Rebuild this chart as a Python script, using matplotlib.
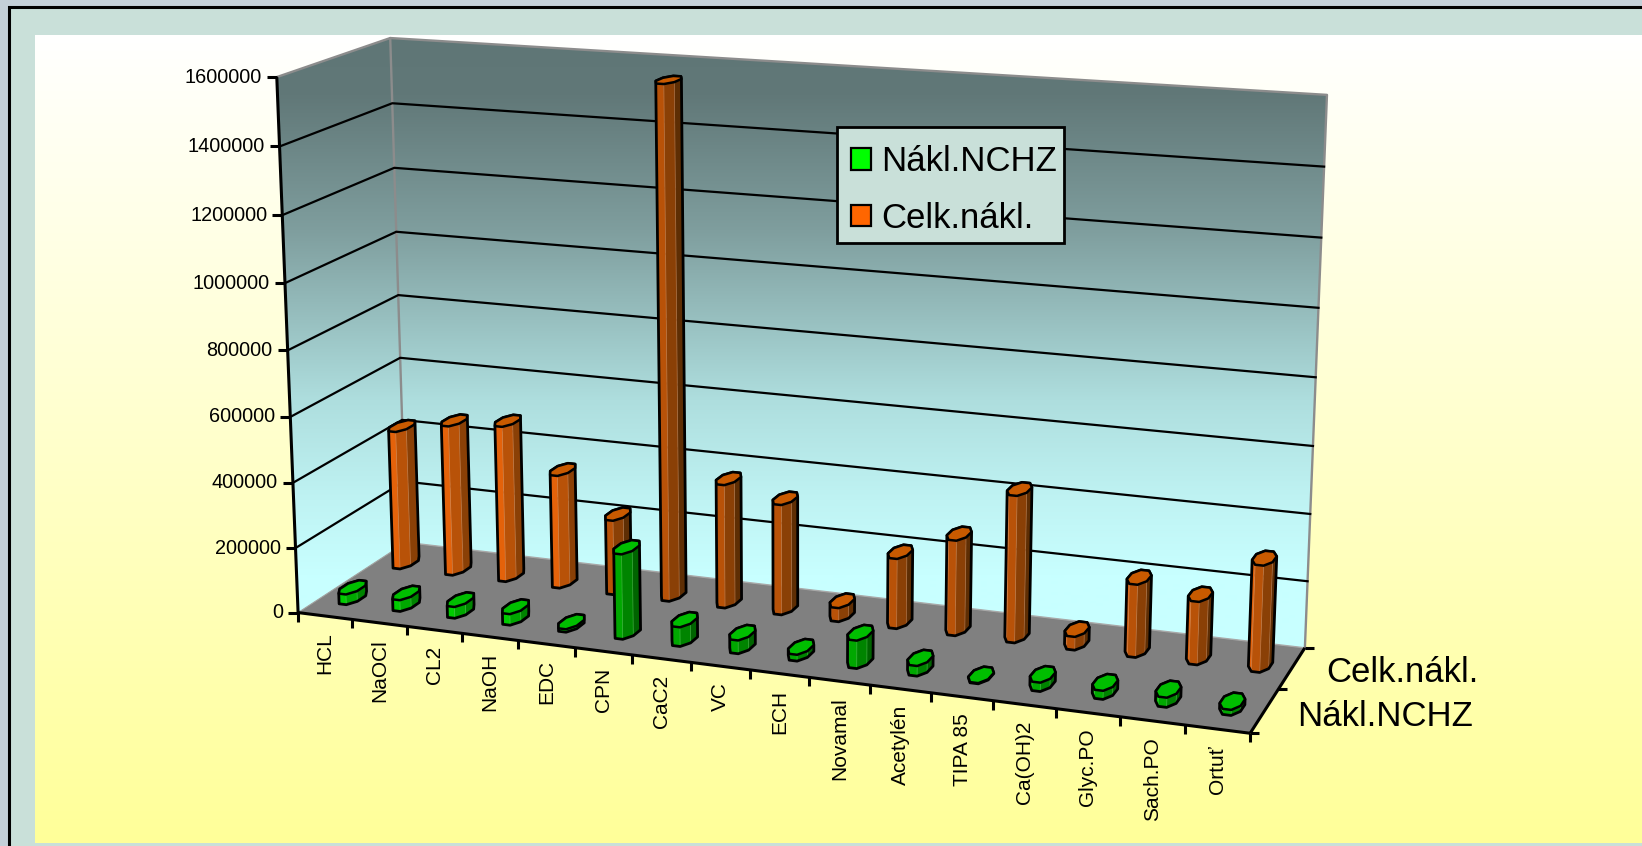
#! /usr/bin/env python

import numpy as np
import matplotlib
matplotlib.use('Agg')
import matplotlib.pyplot as plt
from matplotlib.patches import Polygon, Rectangle, Patch

plt.rcParams['font.family'] = ['Liberation Sans', 'DejaVu Sans']

categories = ['HCL', 'NaOCl', 'CL2', 'NaOH', 'EDC', 'CPN', 'CaC2', 'VC', 'ECH', 'Novamal',
              'Acetylén', 'TIPA 85', 'Ca(OH)2', 'Glyc.PO', 'Sach.PO', 'Ortuť']
series_names = ['Nákl.NCHZ', 'Celk.nákl.']
nakl_nchz = [32000, 35000, 35000, 34000, 9000, 257000, 58000, 40000,
             19000, 83000, 30000, 2000, 26000, 25000, 28000, 16000]
celk_nakl = [437000, 472000, 488000, 353000, 232000, 1560000, 380000, 338000,
             42000, 213000, 288000, 441000, 40000, 217000, 187000, 314000]
value_ticks = [0, 200000, 400000, 600000, 800000, 1000000, 1200000, 1400000, 1600000]
value_max = 1600000

W, H = 1642, 846
FS = 14.3
FS_CAT = 15
FS_BIG = 25

# corners of the chart box: (category, series, value) -> pixel, used to solve the camera
box_corners = [((0, 0, 0), (298, 612)), ((0, 0, 1), (277, 77)),
               ((0, 2, 0), (406, 543)), ((0, 2, 1), (390, 38)),
               ((16, 0, 0), (1250, 734)), ((16, 2, 0), (1305, 647)),
               ((16, 2, 1), (1327, 95))]

# wall shading by pixel row
wall_rows = [38, 95, 230, 320, 400, 500, 575, 760]
wall_colors = ['#5F7676', '#617878', '#7F9E9E', '#98C0C0', '#AEDEDE', '#BFF3F3', '#C8FFFF', '#C8FFFF']


def solve_camera(corners):
    rows = []
    for (u, s, z), (x, y) in corners:
        X = [u / 16, s / 2, z, 1]
        rows.append(X + [0, 0, 0, 0] + [-x * c for c in X])
        rows.append([0, 0, 0, 0] + X + [-y * c for c in X])
    _, _, vt = np.linalg.svd(np.array(rows, dtype=float))
    return vt[-1].reshape(3, 4)


camera = solve_camera(box_corners)


def project(cat, ser, val):
    cat, ser, val = np.broadcast_arrays(np.asarray(cat, float), np.asarray(ser, float), np.asarray(val, float))
    X = np.stack([cat / 16, ser / 2, val / value_max, np.ones_like(cat)])
    p = camera @ X
    return p[0] / p[2], p[1] / p[2]


def pts(cat, ser, val):
    x, y = project(cat, ser, val)
    return np.column_stack([np.atleast_1d(x), np.atleast_1d(y)])


def gradient(ax, rows, colors, clip):
    rgb = np.array([matplotlib.colors.to_rgb(c) for c in colors])
    yy = np.arange(rows[0], rows[-1] + 1)
    img = np.stack([np.interp(yy, rows, rgb[:, k]) for k in range(3)], axis=1)[:, None, :]
    im = ax.imshow(img, extent=(0, W, rows[-1], rows[0]), aspect='auto', zorder=1, interpolation='bilinear')
    patch = Polygon(clip, closed=True, transform=ax.transData, facecolor='none', edgecolor='none')
    ax.add_patch(patch)
    im.set_clip_path(patch)


def cylinder(ax, cat, ser, val, facets, cap, highlight):
    ang = np.arange(8) * 2 * np.pi / 8 + np.pi / 8
    cu = cat + 0.5 + 0.175 * np.cos(ang)
    cs = ser + 0.5 + 0.2 * np.sin(ang)
    low = pts(cu, cs, 0)
    top = pts(cu, cs, val)
    il, ir = np.argmin(low[:, 0]), np.argmax(low[:, 0])

    # the two arcs from the left to the right silhouette point
    up = [(il + k) % 8 for k in range(((ir - il) % 8) + 1)]
    down = [(il - k) % 8 for k in range(((il - ir) % 8) + 1)]
    front, back = (up, down) if low[up, 1].mean() > low[down, 1].mean() else (down, up)

    n = len(front) - 1
    for k in range(n):
        a, b = front[k], front[k + 1]
        shade = facets[min(int(k * len(facets) / n), len(facets) - 1)]
        ax.add_patch(Polygon([low[a], low[b], top[b], top[a]], closed=True, facecolor=shade,
                             edgecolor=shade, linewidth=0.3, zorder=5))
        if 0 < k:
            ax.plot([low[a, 0], top[a, 0]], [low[a, 1], top[a, 1]], color=highlight, lw=0.5, alpha=0.6, zorder=5)

    outline = np.vstack([low[front], top[back[::-1]]])
    ax.add_patch(Polygon(outline, closed=True, facecolor='none', edgecolor='black', linewidth=2.0,
                         joinstyle='round', zorder=5))
    ax.add_patch(Polygon(top, closed=True, facecolor=cap, edgecolor='black', linewidth=1.8,
                         joinstyle='round', zorder=5))


fig = plt.figure(figsize=(W / 100, H / 100), dpi=100, facecolor='#C4D0D8')
ax = fig.add_axes([0, 0, 1, 1])
ax.set_xlim(0, W)
ax.set_ylim(H, 0)
ax.axis('off')

# slide frame and panel
ax.add_patch(Rectangle((8.5, 7.5), W, H, facecolor='#C9E0D9', edgecolor='black', linewidth=2.2, zorder=0))
gradient(ax, [35, 843], ['#FFFFFF', '#FFFF99'], [(35, 35), (W, 35), (W, 843), (35, 843)])

# walls and floor
fl, fr, bl, br = pts(0, 0, 0)[0], pts(16, 0, 0)[0], pts(0, 2, 0)[0], pts(16, 2, 0)[0]
fl_t, bl_t, br_t = pts(0, 0, value_max)[0], pts(0, 2, value_max)[0], pts(16, 2, value_max)[0]
gradient(ax, wall_rows, wall_colors, [fl, fl_t, bl_t, br_t, br, bl])
ax.add_patch(Polygon([fl, bl, br, fr], closed=True, facecolor='#808080', edgecolor='none', zorder=2))

edge = dict(color='#8C8C8C', lw=1.7, zorder=3, solid_capstyle='round')
ax.plot([fl_t[0], bl_t[0], br_t[0], br[0]], [fl_t[1], bl_t[1], br_t[1], br[1]], **edge)
ax.plot([bl_t[0], bl[0]], [bl_t[1], bl[1]], **edge)
ax.plot([bl[0], br[0]], [bl[1], br[1]], color='#A8A8A8', lw=1.0, zorder=3)
ax.plot([fl[0], bl[0]], [fl[1], bl[1]], color='#A0A0A0', lw=0.8, zorder=3)

# gridlines over both walls
for v in value_ticks[1:-1]:
    g = np.vstack([pts(0, 0, v), pts(0, 2, v), pts(16, 2, v)])
    ax.plot(g[:, 0], g[:, 1], color='black', lw=1.6, zorder=3)

# value axis
axis = dict(color='black', lw=2.2, zorder=4, solid_capstyle='butt')
ax.plot([fl[0], fl_t[0]], [fl[1], fl_t[1]], **axis)
for v in value_ticks:
    tx, ty = pts(0, 0, v)[0]
    ax.plot([tx - 10, tx], [ty, ty], **axis)
    ax.text(tx - 15, ty, str(v), ha='right', va='center', fontsize=FS, color='black')

# category axis
ax.plot([fl[0], fr[0]], [fl[1], fr[1]], **axis)
for i in range(len(categories) + 1):
    tx, ty = pts(i, 0, 0)[0]
    ax.plot([tx, tx], [ty, ty + 9], **axis)
for i, name in enumerate(categories):
    tx, ty = pts(i + 0.5, 0, 0)[0]
    ax.text(tx, ty + 16, name, rotation=90, ha='center', va='top', fontsize=FS_CAT, color='black')

# series axis
ax.plot([fr[0], br[0]], [fr[1], br[1]], **axis)
for k in range(3):
    tx, ty = pts(16, k, 0)[0]
    ax.plot([tx, tx + 9], [ty, ty], **axis)
ax.text(1473, 716, series_names[0], ha='right', va='center', fontsize=FS_BIG, color='black')
ax.text(1479, 672, series_names[1], ha='right', va='center', fontsize=FS_BIG, color='black')

# bars: back row first so the front row overlaps it
orange_facets = ['#E4620A', '#B85208', '#8A4006', '#5E2E04']
green_facets = ['#00CC00', '#00A800', '#008400', '#006400']
for i, v in enumerate(celk_nakl):
    cylinder(ax, i, 1, v, orange_facets, '#C85A00', '#E8A070')
for i, v in enumerate(nakl_nchz):
    cylinder(ax, i, 0, v, green_facets, '#00BE00', '#60E060')

# legend box, contents placed inside it
ax.add_patch(Rectangle((837, 127), 227, 116, facecolor='#C9E0D9', edgecolor='black', linewidth=2.0, zorder=6))
handles = [Patch(facecolor='#00FF00', edgecolor='black', linewidth=1.6, label=series_names[0]),
           Patch(facecolor='#FF6600', edgecolor='black', linewidth=1.6, label=series_names[1])]
leg = ax.legend(handles=handles, loc='upper left', bbox_to_anchor=(851, 145), bbox_transform=ax.transData,
                fontsize=FS_BIG, borderaxespad=0, borderpad=0, handlelength=0.58, handleheight=0.58,
                handletextpad=0.3, labelspacing=0.69, frameon=False)
leg.set_zorder(7)

ax.set_xlim(0, W)
ax.set_ylim(H, 0)
fig.savefig('out.png', dpi=100, facecolor=fig.get_facecolor())
